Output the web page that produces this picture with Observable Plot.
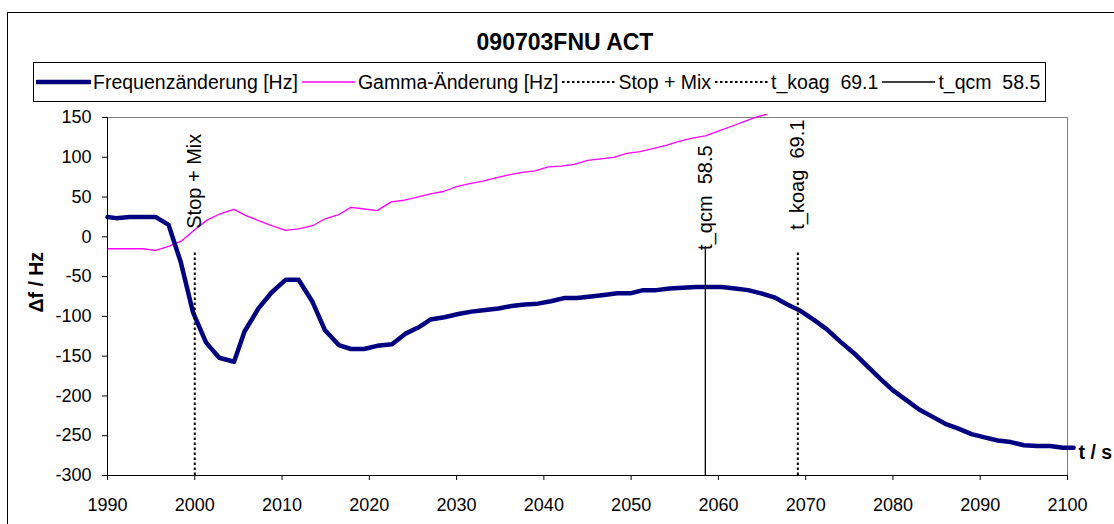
<!DOCTYPE html>
<html><head><meta charset="utf-8">
<script src="https://cdn.jsdelivr.net/npm/d3@7"></script>
<script src="https://cdn.jsdelivr.net/npm/@observablehq/plot@0.6"></script>
<style>
html,body{margin:0;padding:0;background:#fff;overflow:hidden}
#wrap{position:relative;width:1114px;height:524px;font-family:"Liberation Sans",Arial,sans-serif;color:#000;overflow:hidden}
#frame{position:absolute;left:7px;top:12px;width:1130px;height:540px;border:1px solid #000;box-sizing:border-box}
#header{position:relative;height:105px}
#title{position:absolute;left:0;width:1130px;top:29px;text-align:center;font-weight:bold;font-size:23px;line-height:26px}
#legend{position:absolute;left:33px;top:62px;width:1013px;height:40px;border:1px solid #000;box-sizing:border-box;display:flex;align-items:center;padding-left:2px;font-size:19.5px;white-space:pre;overflow:hidden}
.item{display:flex;align-items:center;margin-right:3px}
.item svg{margin-right:2px}
#chart{position:relative}
</style>
</head><body>
<div id="wrap">
  <div id="frame"></div>
  <div id="header">
    <div id="title">090703FNU ACT</div>
    <div id="legend"></div>
  </div>
  <div id="chart"></div>
</div>
<script>
// ---- data ----
const chartTitle = "090703FNU ACT";
const freqT = [1990.0,1991.0,1992.5,1994.0,1995.5,1997.0,1998.4,1999.8,2001.3,2002.8,2004.5,2005.7,2007.3,2008.8,2010.4,2011.9,2013.5,2014.9,2016.5,2017.9,2019.4,2020.9,2022.6,2024.1,2025.6,2027.0,2028.6,2030.2,2031.7,2033.3,2034.8,2036.3,2037.8,2039.3,2040.8,2042.3,2043.8,2045.4,2046.9,2048.4,2049.9,2051.4,2052.9,2054.4,2055.9,2057.4,2058.9,2060.4,2061.9,2063.4,2064.9,2066.4,2067.9,2069.4,2070.9,2072.4,2074.0,2075.5,2077.0,2078.5,2080.0,2081.5,2083.0,2084.5,2086.0,2087.5,2089.0,2090.5,2092.0,2093.5,2095.0,2096.5,2098.0,2099.5,2100.7];
const freqV = [25,23.5,25,25,25,15,-32,-95,-133,-152,-157,-119,-90,-70,-54,-54,-82,-117,-136,-141,-141,-137,-135,-122,-114,-104,-101,-97,-94,-92,-90,-87,-85,-84,-81,-77,-77,-75,-73,-71,-71,-67,-67,-65,-64,-63,-63,-63,-65,-67,-71,-76,-85,-93,-104,-116,-132,-146,-162,-178,-193,-205,-217,-226,-235,-241,-248,-252,-256,-258,-262,-263,-263,-265,-265];
const gammaT = [1990.0,1992.5,1994.0,1995.5,1997.0,1998.5,2000.0,2001.4,2002.9,2004.5,2005.8,2007.3,2008.8,2010.4,2011.9,2013.5,2015.0,2016.5,2017.9,2019.4,2020.9,2022.5,2024.0,2025.5,2027.0,2028.5,2030.0,2031.5,2033.0,2034.5,2036.0,2037.5,2039.0,2040.5,2042.0,2043.5,2045.0,2046.5,2048.0,2049.5,2051.0,2052.5,2054.0,2055.5,2057.0,2058.5,2060.0,2061.5,2063.0,2064.5,2065.5];
const gammaV = [-15,-15,-15,-17,-12,-5,9,21,29,34.5,27,20.5,14,8,10,14,23,28,37,35,33,44,46,50,54,57,63,67,70,74,78,81,83,88,89,91,96,98,100,105,107,111,115,120,124,127,133,139,145,151,154];
const markerNames = ["Stop + Mix","t_koag  69.1","t_qcm  58.5"];
const markerT = [2000.0, 2069.1, 2058.5];
const markerBottom = [-300, -300, -300];
const markerTop = [-20, -20, -12];
const seriesNames = ["Frequenzänderung [Hz]","Gamma-Änderung [Hz]","Stop + Mix","t_koag  69.1","t_qcm  58.5"];
const xTicks = [1990,2000,2010,2020,2030,2040,2050,2060,2070,2080,2090,2100];
const yTicks = [-300,-250,-200,-150,-100,-50,0,50,100,150];
const xLabel = "t / s";
const yLabel = "\u0394f / Hz";

// ---- build tables ----
const freq = freqT.map((t,i)=>({t, v:freqV[i]}));
const gamma = gammaT.map((t,i)=>({t, v:gammaV[i]}));
const markers = markerNames.map((name,i)=>({name, t:markerT[i], y1:markerBottom[i], y2:markerTop[i]}));

const FONT = '"Liberation Sans", Arial, sans-serif';
const NAVY = "#000080", MAGENTA = "#ff00ff";
const DOT = "2.5,2.5";

document.getElementById("title").textContent = chartTitle;

// legend
const legendStyles = [
  {stroke:NAVY, w:4.5},
  {stroke:MAGENTA, w:1.3},
  {stroke:"#000", w:2, dash:DOT},
  {stroke:"#000", w:2, dash:DOT},
  {stroke:"#000", w:1.3}
];
const legend = document.getElementById("legend");
seriesNames.forEach((name,i)=>{
  const st = legendStyles[i];
  const item = document.createElement("div");
  item.className = "item";
  const sw = 55;
  item.innerHTML = `<svg width="${sw}" height="12"><line x1="1" x2="${sw-1}" y1="6" y2="6" stroke="${st.stroke}" stroke-width="${st.w}" ${st.dash?`stroke-dasharray="${st.dash}"`:""} stroke-linecap="${i===0?"round":"butt"}"/></svg><span>${name}</span>`;
  legend.appendChild(item);
});

const byName = n => markers.filter(d=>d.name===n);

const chart = Plot.plot({
  width: 1114, height: 419,
  marginLeft: 107, marginRight: 47, marginTop: 12, marginBottom: 49,
  style: {fontFamily: FONT, fontSize: "18px", color: "#000", background: "transparent", overflow: "visible"},
  x: {domain: [1990, 2100], ticks: xTicks, tickFormat: d => String(d), tickSize: 5, tickPadding: 18, label: null},
  y: {domain: [-300, 150], ticks: yTicks, tickFormat: d => String(d), tickSize: 5, tickPadding: 11, label: null},
  marks: [
    Plot.ruleY([150], {stroke: "#808080", strokeWidth: 1}),
    Plot.ruleX([2100], {stroke: "#808080", strokeWidth: 1}),
    Plot.line(gamma, {x: "t", y: "v", stroke: MAGENTA, strokeWidth: 1.3}),
    Plot.line(freq, {x: "t", y: "v", stroke: NAVY, strokeWidth: 4.5, strokeLinejoin: "round"}),
    Plot.ruleX(markers.filter(d=>d.name!=="t_qcm  58.5"), {x: "t", y1: "y1", y2: "y2", stroke: "#000", strokeWidth: 2, strokeDasharray: DOT}),
    Plot.ruleX(byName("t_qcm  58.5"), {x: "t", y1: "y1", y2: "y2", stroke: "#000", strokeWidth: 1.3}),
    Plot.text(byName("Stop + Mix"), {x: "t", y: "y2", text: "name", rotate: -90, textAnchor: "start", dy: -24, fontSize: 20, fill: "#000"}),
    Plot.text(byName("t_koag  69.1"), {x: "t", y: "y2", text: "name", rotate: -90, textAnchor: "start", dy: -23, fontSize: 20, fill: "#000"}),
    Plot.text(byName("t_qcm  58.5"), {x: "t", y: "y2", text: "name", rotate: -90, textAnchor: "start", dy: 3.5, fontSize: 20, fill: "#000"}),
    Plot.ruleX([1990], {stroke: "#000", strokeWidth: 1}),
    Plot.ruleY([-300], {stroke: "#000", strokeWidth: 1}),
    Plot.text([yLabel], {text: d => d, frameAnchor: "left", dx: -71, dy: 16, rotate: -90, fontWeight: "bold", fontSize: 19.5, fill: "#000"}),
    Plot.text([xLabel], {text: d => d, frameAnchor: "bottom-right", dx: 11, dy: -17, textAnchor: "start", fontWeight: "bold", fontSize: 19.5, fill: "#000"})
  ]
});
chart.querySelectorAll("text").forEach(t=>{ t.style.whiteSpace = "pre"; });
document.getElementById("chart").appendChild(chart);
</script>
</body></html>
